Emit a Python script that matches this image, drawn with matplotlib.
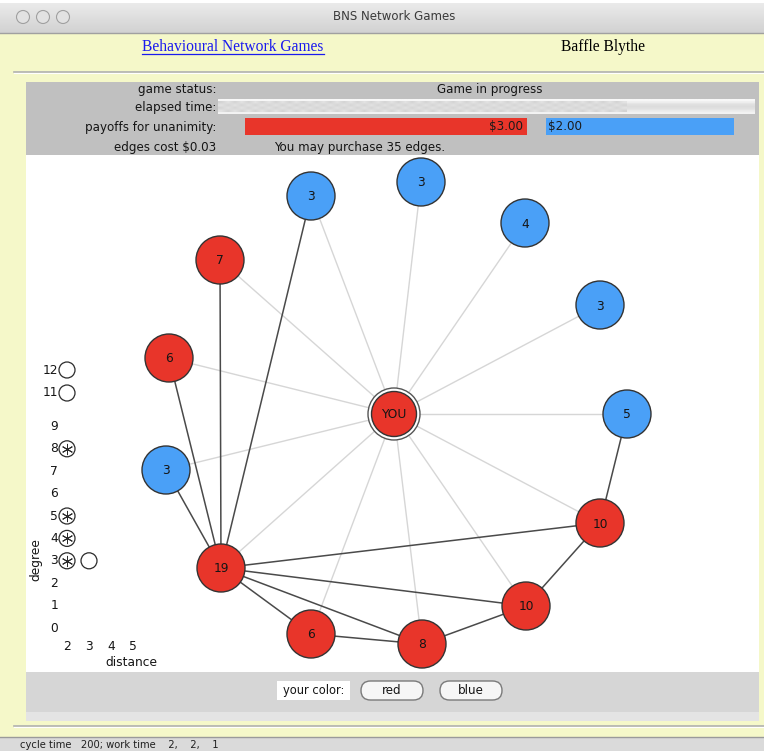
import numpy as np
import matplotlib.pyplot as plt
from matplotlib.patches import Rectangle, Circle, FancyBboxPatch

W, H = 764, 751

# ---------------- data ----------------
node_labels = ['YOU', '3', '3', '4', '3', '5', '7', '6', '3', '19', '6', '8', '10', '10']
node_colors = ['red', 'blue', 'blue', 'blue', 'blue', 'blue', 'red', 'red',
               'blue', 'red', 'red', 'red', 'red', 'red']
node_x = [394, 311, 421, 525, 600, 627, 220, 169, 166, 221, 311, 422, 526, 600]
node_y = [414, 196, 182, 223, 305, 414, 260, 358, 470, 568, 634, 644, 606, 523]

# my own links (light) and the links among the others (dark)
light_edges = [(0, 1), (0, 2), (0, 3), (0, 4), (0, 5), (0, 6), (0, 7),
               (0, 8), (0, 9), (0, 10), (0, 11), (0, 12), (0, 13)]
dark_edges = [(9, 1), (9, 6), (9, 7), (9, 8), (9, 13), (9, 12), (9, 11),
              (9, 10), (10, 11), (11, 12), (12, 13), (13, 5)]

# degree / distance panel
degree_ticks = [0, 1, 2, 3, 4, 5, 6, 7, 8, 9, 11, 12]
distance_ticks = [2, 3, 4, 5]
mark_distance = [2, 2, 2, 2, 2, 2, 3]
mark_degree = [12, 11, 8, 5, 4, 3, 3]
mark_star = [False, False, True, True, True, True, False]

payoff_red = 3.00
payoff_blue = 2.00
elapsed_fraction = 0.76
edge_cost = 0.03
edges_left = 35

RED = '#e8352a'
BLUE = '#4aa0f7'
YELLOW = '#f5f8c9'
fill = {'red': RED, 'blue': BLUE}


def deg_y(d):
    # 11 and 12 sit a little apart from the 0..9 column
    if d < 10:
        return 628 - 22.4 * d
    return 393 - 23 * (d - 11)


def dist_x(d):
    return 67 + 22 * (d - 2)


fig = plt.figure(figsize=(W / 100, H / 100), dpi=100)
ax = fig.add_axes([0, 0, 1, 1])
ax.set_xlim(0, W)
ax.set_ylim(H, 0)
ax.axis('off')
sans = 'DejaVu Sans'
serif = 'Liberation Serif'
fs = 8.6

############################## window chrome ##############################
grad = np.linspace(0.92, 0.82, 50)[:, None] * np.ones((1, 2))
ax.imshow(grad, extent=(0, W, 33, 3), cmap='gray', vmin=0, vmax=1, aspect='auto', zorder=0)
ax.plot([0, W], [33, 33], color='#a0a0a0', lw=1)
for cx in [23, 43, 63]:
    ax.add_patch(Circle((cx, 17), 6.5, fc='#e2e2e2', ec='#a0a0a0', lw=0.8))
ax.text(W / 2 + 12, 17, 'BNS Network Games', ha='center', va='center',
        fontsize=8.5, color='#3a3a3a', family=sans)

ax.add_patch(Rectangle((0, 33.5), W, 704, fc=YELLOW, ec='none', zorder=0))
ax.text(233, 47, 'Behavioural Network Games', ha='center', va='center',
        fontsize=11.2, color='#1a1aee', family=serif)
ax.plot([142, 324], [54, 54], color='#1a1aee', lw=0.9)
ax.text(603, 47, 'Baffle Blythe', ha='center', va='center',
        fontsize=11.2, color='black', family=serif)
for yy in [71.5, 725.5]:
    ax.plot([14, W], [yy, yy], color='#b0b0b0', lw=1.2)
    ax.plot([14, W], [yy + 1.2, yy + 1.2], color='white', lw=0.8)

# status bar
ax.add_patch(Rectangle((0, 737), W, 14, fc='#dadada', ec='none'))
ax.plot([0, W], [737, 737], color='#9a9a9a', lw=1)
ax.text(20, 745.5, 'cycle time   200; work time    2,    2,    1', ha='left', va='center',
        fontsize=7.2, color='#202020', family=sans)

############################## status panel ##############################
ax.add_patch(Rectangle((26, 82), 733, 73, fc='#c0c0c0', ec='none'))
rows = [('game status:', 90), ('elapsed time:', 107), ('payoffs for unanimity:', 127),
        ('edges cost $%.2f' % edge_cost, 147)]
for label, yy in rows:
    ax.text(216, yy, label, ha='right', va='center', fontsize=fs, color='#151515', family=sans)
ax.text(490, 90, 'Game in progress', ha='center', va='center', fontsize=fs,
        color='#151515', family=sans)

# elapsed time bar
bar_x0, bar_x1 = 218, 755
bar_grad = np.array([0.97, 0.93, 0.88, 0.86, 0.88, 0.92, 0.95])[:, None] * np.ones((1, 2))
ax.imshow(bar_grad, extent=(bar_x0, bar_x1, 114, 99), cmap='gray', vmin=0, vmax=1,
          aspect='auto', zorder=1)
done = bar_x0 + elapsed_fraction * (bar_x1 - bar_x0)
ii, jj = np.indices((4, 60))
check = 0.83 + 0.06 * ((ii + jj) % 2)
ax.imshow(check, extent=(bar_x0, done, 112, 101), cmap='gray', vmin=0, vmax=1,
          aspect='auto', zorder=2, interpolation='bilinear')

# payoff bars
px_per_dollar = 94
ax.add_patch(Rectangle((245, 118), payoff_red * px_per_dollar, 17, fc=RED, ec='none'))
ax.text(245 + payoff_red * px_per_dollar - 4, 127, '$%.2f' % payoff_red, ha='right',
        va='center', fontsize=fs, color='#1a1a1a', family=sans)
ax.add_patch(Rectangle((546, 118), payoff_blue * px_per_dollar, 17, fc=BLUE, ec='none'))
ax.text(548, 127, '$%.2f' % payoff_blue, ha='left', va='center', fontsize=fs,
        color='#1a1a1a', family=sans)
ax.text(274, 147, 'You may purchase %d edges.' % edges_left, ha='left', va='center',
        fontsize=fs, color='#151515', family=sans)

############################## graph area ##############################
ax.add_patch(Rectangle((26, 155), 733, 517, fc='white', ec='none'))

for a, b in light_edges:
    ax.plot([node_x[a], node_x[b]], [node_y[a], node_y[b]], color='#d6d6d6', lw=1.0, zorder=3)
for a, b in dark_edges:
    ax.plot([node_x[a], node_x[b]], [node_y[a], node_y[b]], color='#4a4a4a', lw=1.1, zorder=4)

for i, lab in enumerate(node_labels):
    x, y = node_x[i], node_y[i]
    if lab == 'YOU':
        ax.add_patch(Circle((x, y), 26, fc='white', ec='#555555', lw=1.0, zorder=5))
        ax.add_patch(Circle((x, y), 22.5, fc=fill[node_colors[i]], ec='#333333', lw=1.0, zorder=6))
    else:
        ax.add_patch(Circle((x, y), 24, fc=fill[node_colors[i]], ec='#333333', lw=1.0, zorder=6))
    ax.text(x, y + 1, lab, ha='center', va='center', fontsize=8.8, color='#151515',
            family=sans, zorder=7)

# degree / distance legend
for d in degree_ticks:
    ax.text(58, deg_y(d), str(d), ha='right', va='center', fontsize=8.8, color='#151515', family=sans)
for d in distance_ticks:
    ax.text(dist_x(d), 646, str(d), ha='center', va='center', fontsize=8.8, color='#151515', family=sans)
ax.text(131, 662, 'distance', ha='center', va='center', fontsize=8.8, color='#151515', family=sans)
ax.text(36, 560, 'degree', ha='center', va='center', rotation=90, fontsize=8.8,
        color='#151515', family=sans)
for dx, dg, star in zip(mark_distance, mark_degree, mark_star):
    ax.add_patch(Circle((dist_x(dx), deg_y(dg)), 8, fc='none', ec='#2a2a2a', lw=0.9, zorder=5))
    if star:
        ax.plot(dist_x(dx), deg_y(dg), marker=(6, 2, 0), ms=8, color='#2a2a2a', mew=0.7, zorder=6)

############################## bottom panel ##############################
ax.add_patch(Rectangle((26, 672), 733, 40, fc='#d6d6d6', ec='none'))
ax.add_patch(Rectangle((26, 712), 733, 9, fc='#e4e4e4', ec='none'))
ax.add_patch(Rectangle((277, 681), 73, 19, fc='white', ec='none'))
ax.text(313.5, 690.5, 'your color:', ha='center', va='center', fontsize=8.3, color='#151515', family=sans)
for bx, lab in [(361, 'red'), (440, 'blue')]:
    ax.add_patch(FancyBboxPatch((bx, 681), 62, 19, boxstyle='round,pad=0,rounding_size=9.5',
                                fc='#f6f6f6', ec='#7a7a7a', lw=1.0, zorder=3))
    ax.text(bx + 31, 690.5, lab, ha='center', va='center', fontsize=fs, color='#151515',
            family=sans, zorder=4)

fig.savefig('out.png', dpi=100, facecolor='white')
